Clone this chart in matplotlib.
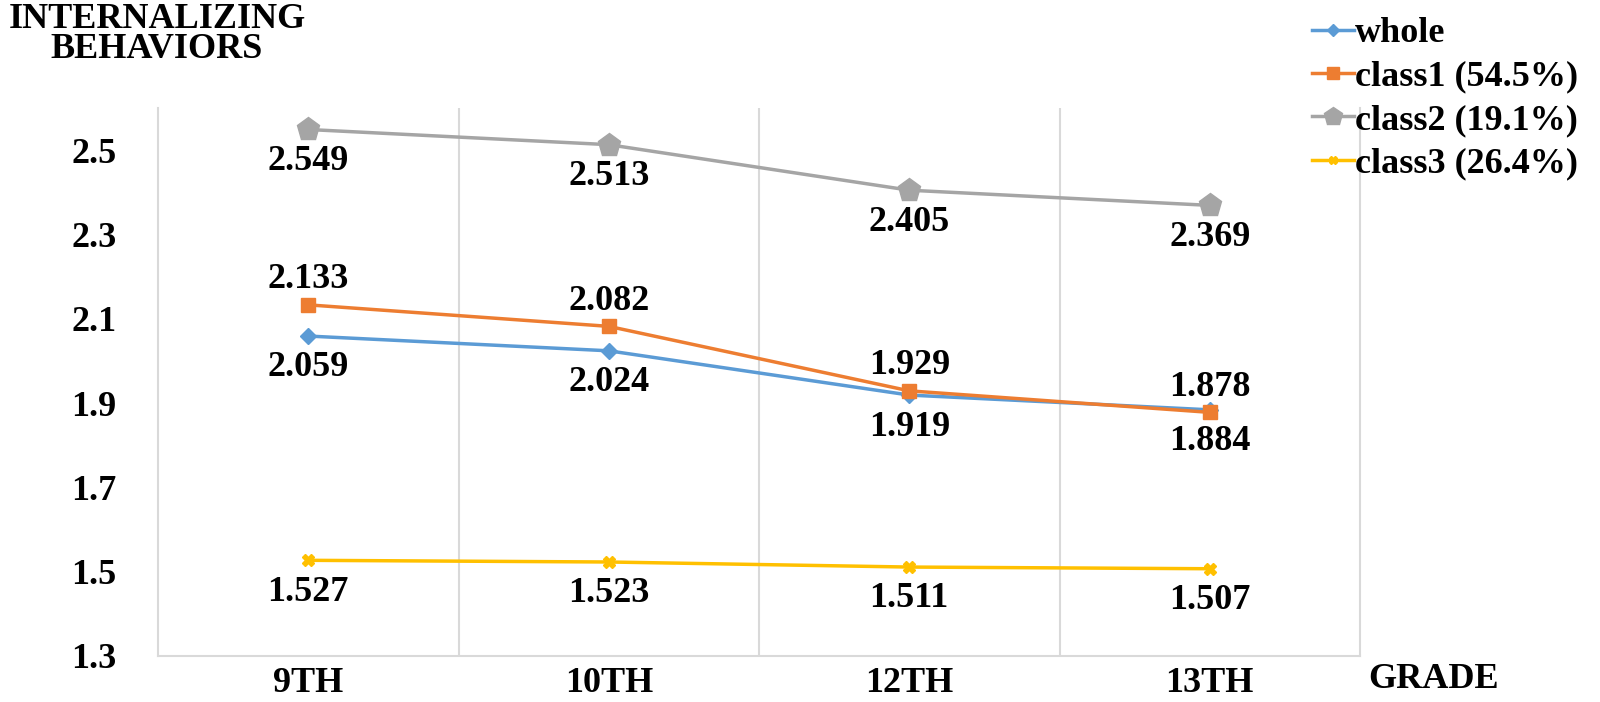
import numpy as np
import matplotlib.pyplot as plt
from matplotlib.ticker import FormatStrFormatter

# data
grades = ['9TH', '10TH', '12TH', '13TH']
whole = [2.059, 2.024, 1.919, 1.884]
class1 = [2.133, 2.082, 1.929, 1.878]
class2 = [2.549, 2.513, 2.405, 2.369]
class3 = [1.527, 1.523, 1.511, 1.507]
yticks = [1.3, 1.5, 1.7, 1.9, 2.1, 2.3, 2.5]

plt.rcParams['font.family'] = ['Liberation Serif', 'DejaVu Serif']
plt.rcParams['font.weight'] = 'bold'
fs = 26

fig = plt.figure(figsize=(16, 7.02), dpi=100)
ax = fig.add_axes([158 / 1600, 46 / 702, 1202 / 1600, 548 / 702])

x = np.arange(len(grades))

series = [
    ('whole', whole, '#5B9BD5', 'D', 8, -1),
    ('class1 (54.5%)', class1, '#ED7D31', 's', 10, 1),
    ('class2 (19.1%)', class2, '#A5A5A5', 'p', 17, -1),
    ('class3 (26.4%)', class3, '#FFC000', 'X', 8, -1),
]

for name, vals, col, mk, ms, side in series:
    ax.plot(x, vals, color=col, lw=2.5, marker=mk, markersize=ms, label=name)
    off = 23 if side < 0 else 18
    for xi, v in zip(x, vals):
        ax.annotate(f'{v:.3f}', (xi, v), xytext=(0, off * side),
                    textcoords='offset points', ha='center', va='center',
                    fontsize=fs, fontweight='bold')

ax.set_xlim(-0.5, len(grades) - 0.5)
ax.set_ylim(1.3, 2.6)
ax.set_xticks(x)
ax.set_xticklabels(grades)
ax.set_yticks(yticks)
ax.yaxis.set_major_formatter(FormatStrFormatter('%.1f'))
ax.tick_params(axis='both', length=0, labelsize=fs)
ax.tick_params(axis='y', pad=30)
ax.tick_params(axis='x', pad=8)
for lab in ax.get_xticklabels() + ax.get_yticklabels():
    lab.set_fontweight('bold')

for b in [0.5, 1.5, 2.5]:
    ax.axvline(b, color='#D9D9D9', lw=1.5, zorder=0)
for s in ['left', 'right', 'bottom']:
    ax.spines[s].set_color('#D9D9D9')
    ax.spines[s].set_linewidth(1.5)
ax.spines['top'].set_visible(False)

fig.text(157 / 1600, 1 - 20 / 702, 'INTERNALIZING', ha='center', va='center',
         fontsize=fs, fontweight='bold')
fig.text(157 / 1600, 1 - 50 / 702, 'BEHAVIORS', ha='center', va='center',
         fontsize=fs, fontweight='bold')
fig.text(1368 / 1600, 1 - 680 / 702, 'GRADE', ha='left', va='center',
         fontsize=fs, fontweight='bold')

leg = ax.legend(loc='upper left', bbox_to_anchor=(1312 / 1600, 1 - 17 / 702),
                bbox_transform=fig.transFigure, frameon=False, fontsize=fs,
                handlelength=1.15, handletextpad=0.05, labelspacing=0.28,
                borderaxespad=0, borderpad=0, markerscale=0.8)
for t in leg.get_texts():
    t.set_fontweight('bold')

fig.savefig('out.png', dpi=100)
